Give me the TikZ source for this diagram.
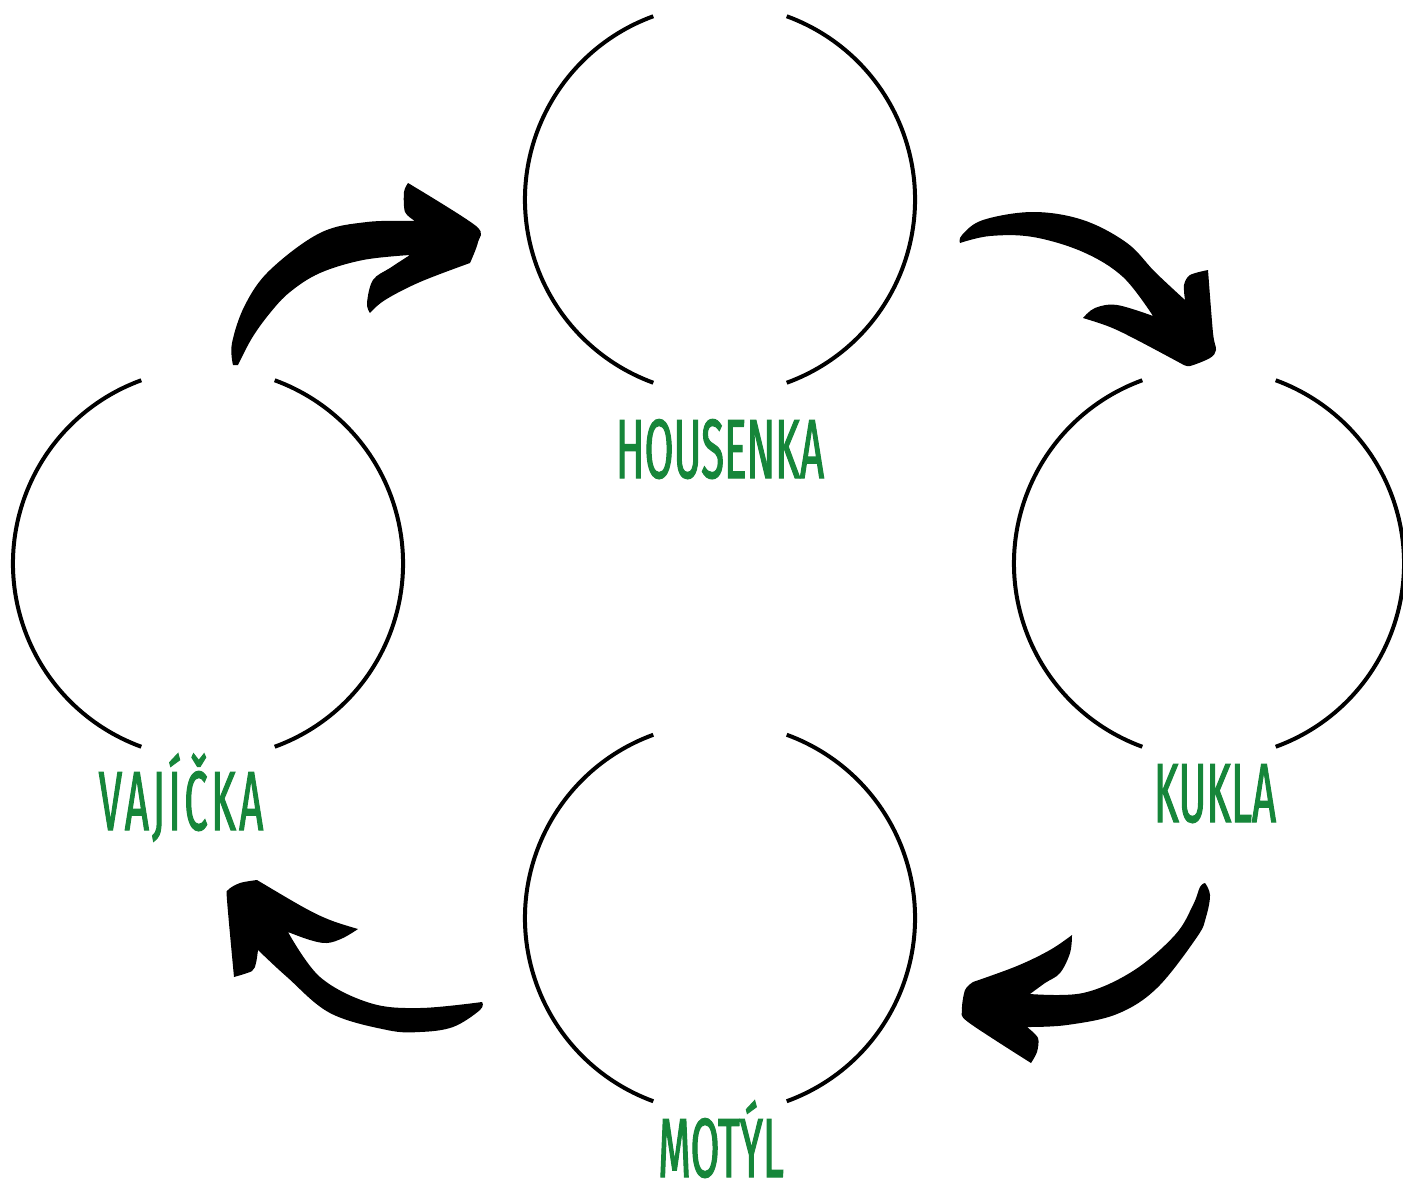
\documentclass[tikz,border=0pt]{standalone}
\usepackage{fontspec}
\usepackage{graphicx}
\newfontfamily\labfont[FakeStretch=0.5,FakeBold=1.2]{Fira Sans}
\definecolor{labgreen}{RGB}{22,134,58}
\tikzset{
  ring/.style={line width=2pt, draw=black},
  stage/.style={text=labgreen, font=\labfont\fontsize{42}{42}\selectfont, anchor=base, inner sep=0pt},
  brush/.style={fill=black}
}
\begin{document}
\begin{tikzpicture}[x=0.5pt,y=-0.5pt]
\useasboundingbox (0,0) rectangle (1403,1194);
% circle centres
\coordinate (cH) at (720,199.5);
\coordinate (cV) at (208,563.5);
\coordinate (cK) at (1209,563.5);
\coordinate (cM) at (720,918);
\foreach \c in {cH,cV,cK,cM}{
  \draw[ring] (\c) ++(-70:97.5pt) arc[start angle=-70,end angle=70,radius=97.5pt];
  \draw[ring] (\c) ++(110:97.5pt) arc[start angle=110,end angle=250,radius=97.5pt];
}
% labels
\node[stage] (lH) at (720,478) {HOUSENKA};
\node[stage] (lV) at (181,830) {\addfontfeature{LetterSpace=4}VAJÍČKA};
\node[stage] (lK) at (1215,822) {KUKLA};
\node[stage] (lM) at (721,1177) {MOTÝL};
% arrow VAJICKA -> HOUSENKA
\fill[brush] plot[smooth,tension=0.6] coordinates {(233,365) (232,343) (245,305) (270,270) (320,233) (367,222) (415,221)}
  -- plot[smooth,tension=0.5] coordinates {(415,221) (405,212) (404,192) (408,183)}
  -- plot[smooth,tension=0.5] coordinates {(408,183) (476,226) (478,242) (470,263)}
  -- plot[smooth,tension=0.6] coordinates {(470,263) (420,282) (385,300) (370,313)}
  -- plot[smooth,tension=0.6] coordinates {(370,313) (367,303) (373,280) (390,268) (410,255)}
  -- plot[smooth,tension=0.6] coordinates {(410,255) (363,260) (320,273) (290,292) (270,313) (252,338) (238,365)}
  -- cycle;
% arrow HOUSENKA -> KUKLA
\fill[brush] plot[smooth,tension=0.6] coordinates {(960,243) (962,235) (983,220) (1033,212) (1083,220) (1127,243) (1155,272) (1185,300)}
  -- plot[smooth,tension=0.5] coordinates {(1185,300) (1184,285) (1190,275) (1208,270)}
  -- plot[smooth,tension=0.5] coordinates {(1208,270) (1213,333) (1216,350) (1210,358) (1190,366) (1182,364)}
  -- plot[smooth,tension=0.6] coordinates {(1182,364) (1137,340) (1110,327) (1083,318)}
  -- plot[smooth,tension=0.6] coordinates {(1083,318) (1095,308) (1117,305) (1153,316)}
  -- plot[smooth,tension=0.6] coordinates {(1153,316) (1123,277) (1083,252) (1033,237) (990,236) (960,243)}
  -- cycle;
% arrow KUKLA -> MOTYL
\fill[brush] plot[smooth,tension=0.6] coordinates {(1205,883) (1210,895) (1206,917) (1197,937) (1157,988) (1117,1014) (1067,1025) (1027,1027)}
  -- plot[smooth,tension=0.5] coordinates {(1027,1027) (1038,1038) (1037,1052) (1031,1063)}
  -- plot[smooth,tension=0.5] coordinates {(1031,1063) (968,1022) (962,1010) (965,990) (973,982)}
  -- plot[smooth,tension=0.6] coordinates {(973,982) (1017,966) (1050,950) (1072,935)}
  -- plot[smooth,tension=0.6] coordinates {(1072,935) (1070,953) (1060,973) (1045,983) (1030,994)}
  -- plot[smooth,tension=0.6] coordinates {(1030,994) (1083,993) (1133,971) (1175,935) (1193,905) (1200,887) (1205,883)}
  -- cycle;
% arrow MOTYL -> VAJICKA
\fill[brush] plot[smooth,tension=0.6] coordinates {(482,1002) (480,1010) (453,1027) (420,1032) (387,1030) (330,1013) (287,977) (258,950)}
  -- plot[smooth,tension=0.5] coordinates {(258,950) (256,963) (252,971) (234,977)}
  -- plot[smooth,tension=0.5] coordinates {(234,977) (227,900) (228,890) (240,883) (257,880)}
  -- plot[smooth,tension=0.6] coordinates {(257,880) (303,907) (330,920) (358,929)}
  -- plot[smooth,tension=0.6] coordinates {(358,929) (343,938) (327,943) (310,940) (288,932)}
  -- plot[smooth,tension=0.6] coordinates {(288,932) (320,977) (370,1003) (420,1008) (482,1002)}
  -- cycle;
\end{tikzpicture}
\end{document}
